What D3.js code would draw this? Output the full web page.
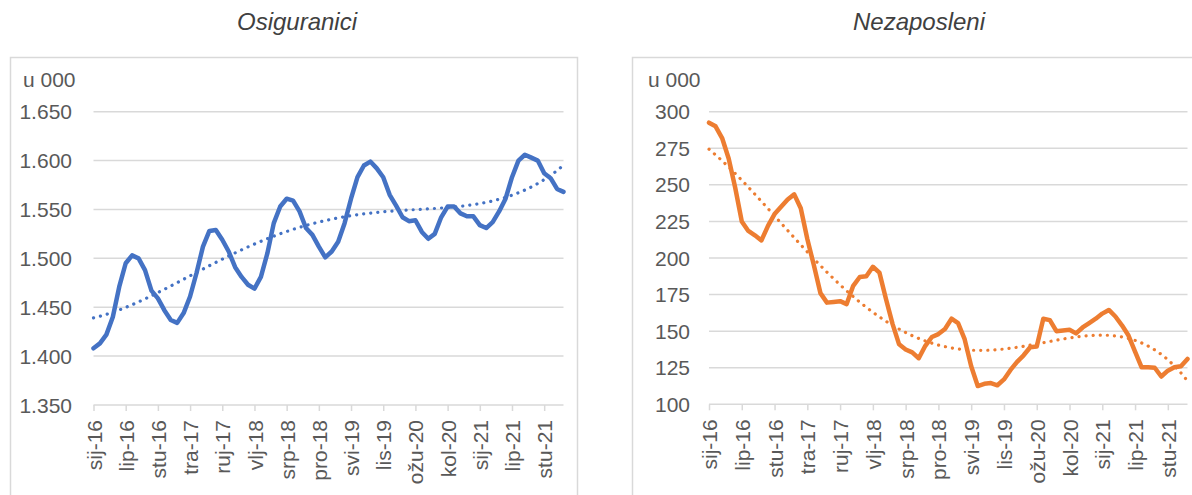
<!DOCTYPE html>
<html>
<head>
<meta charset="utf-8">
<script src="https://cdn.jsdelivr.net/npm/d3@7"></script>
<style>
  html, body { margin: 0; padding: 0; background: #fff; }
  svg { display: block; font-family: "Liberation Sans", Arial, sans-serif; }
  .grid line { stroke: #d9d9d9; stroke-width: 1.5; }
  .frame { fill: none; stroke: #d9d9d9; stroke-width: 1.5; }
  .xaxis path, .xaxis line { stroke: #d9d9d9; stroke-width: 1.5; }
  .xaxis text, .ylab, .unit { fill: #595959; font-size: 21px; }
  .title { fill: #404040; font-size: 24px; font-style: italic; }
</style>
</head>
<body>
<svg id="chart" width="1192" height="495"></svg>
<script>
// Monthly data, sij-16 .. vlj-22 (74 months), in thousands.
const categories = [
  "sij-16","vlj-16","ožu-16","tra-16","svi-16","lip-16","srp-16","kol-16","ruj-16","lis-16","stu-16","pro-16",
  "sij-17","vlj-17","ožu-17","tra-17","svi-17","lip-17","srp-17","kol-17","ruj-17","lis-17","stu-17","pro-17",
  "sij-18","vlj-18","ožu-18","tra-18","svi-18","lip-18","srp-18","kol-18","ruj-18","lis-18","stu-18","pro-18",
  "sij-19","vlj-19","ožu-19","tra-19","svi-19","lip-19","srp-19","kol-19","ruj-19","lis-19","stu-19","pro-19",
  "sij-20","vlj-20","ožu-20","tra-20","svi-20","lip-20","srp-20","kol-20","ruj-20","lis-20","stu-20","pro-20",
  "sij-21","vlj-21","ožu-21","tra-21","svi-21","lip-21","srp-21","kol-21","ruj-21","lis-21","stu-21","pro-21",
  "sij-22","vlj-22"
];

// every 5th month is labelled on the axis
const tickLabels = ["sij-16","lip-16","stu-16","tra-17","ruj-17","vlj-18","srp-18","pro-18",
  "svi-19","lis-19","ožu-20","kol-20","sij-21","lip-21","stu-21"];

const insured = [
  1408,1413,1422,1440,1471,1495,1503,1500,1488,1467,1459,1447,
  1437,1434,1444,1461,1485,1512,1528,1529,1519,1507,1491,1481,
  1473,1469,1481,1505,1536,1553,1561,1559,1548,1531,1524,1512,
  1501,1507,1517,1536,1561,1583,1595,1599,1592,1583,1565,1554,
  1542,1538,1539,1527,1520,1525,1542,1553,1553,1546,1543,1543,
  1534,1531,1537,1548,1561,1583,1600,1606,1603,1600,1587,1582,
  1571,1568
];

const unemployed = [
  292.5,290,282,268,248,225,218.5,215.5,212,222,230,235,
  240,243.5,234,213,195,176,169.5,170,170.5,168.5,181,187,
  187.5,194,190,172,155,141,137.5,135.5,131.5,140,146,148,
  151.5,158.5,155.5,144.5,126,112.5,114,114.5,113,117,123.5,129,
  133.5,139,139.5,158.5,157.5,150,150.5,151,148.5,152.5,155.5,158.5,
  162,164.5,160,154,147,136,125.3,125.3,125,119,123,125.3,
  126,131
];

const insuredTicks = [1350, 1400, 1450, 1500, 1550, 1600, 1650];
const unemployedTicks = [100, 125, 150, 175, 200, 225, 250, 275, 300];

const hr = d3.formatLocale({ decimal: ",", thousands: ".", grouping: [3], currency: ["", ""] });
const fmtInt = hr.format(",d");

const svg = d3.select("#chart");

// Least-squares polynomial trend (order 4, like the spreadsheet trendline).
function polyTrend(values, degree) {
  const n = values.length;
  const xs = values.map((_, i) => i / (n - 1));
  const m = degree + 1;
  const A = Array.from({ length: m }, () => new Array(m + 1).fill(0));
  for (let k = 0; k < n; k++) {
    for (let r = 0; r < m; r++) {
      for (let c = 0; c < m; c++) A[r][c] += Math.pow(xs[k], r + c);
      A[r][m] += values[k] * Math.pow(xs[k], r);
    }
  }
  // gauss-jordan with partial pivoting
  for (let p = 0; p < m; p++) {
    let best = p;
    for (let r = p + 1; r < m; r++) if (Math.abs(A[r][p]) > Math.abs(A[best][p])) best = r;
    [A[p], A[best]] = [A[best], A[p]];
    for (let r = 0; r < m; r++) {
      if (r === p) continue;
      const f = A[r][p] / A[p][p];
      for (let c = p; c <= m; c++) A[r][c] -= f * A[p][c];
    }
  }
  const coef = A.map((row, i) => row[m] / row[i]);
  return xs.map((x) => coef.reduce((s, a, i) => s + a * Math.pow(x, i), 0));
}

function drawPanel(cfg) {
  const g = svg.append("g");

  g.append("rect").attr("class", "frame")
    .attr("x", cfg.frame[0]).attr("y", cfg.frame[1])
    .attr("width", cfg.frame[2]).attr("height", cfg.frame[3]);

  g.append("text").attr("class", "title")
    .attr("x", cfg.titleX).attr("y", 30)
    .attr("text-anchor", "middle")
    .text(cfg.title);

  const x = d3.scalePoint().domain(categories).range([cfg.x0, cfg.x1]);
  const y = d3.scaleLinear().domain(d3.extent(cfg.ticks)).range([cfg.yBottom, cfg.yTop]);

  // horizontal gridlines (bottom one is the axis line)
  g.append("g").attr("class", "grid")
    .selectAll("line")
    .data(cfg.ticks.slice(1))
    .join("line")
    .attr("x1", cfg.x0).attr("x2", cfg.x1)
    .attr("y1", (d) => y(d)).attr("y2", (d) => y(d));

  g.selectAll(".ylab")
    .data(cfg.ticks)
    .join("text")
    .attr("class", "ylab")
    .attr("x", cfg.labelX)
    .attr("y", (d) => y(d))
    .attr("dy", "0.36em")
    .attr("text-anchor", "end")
    .text((d) => fmtInt(d));

  g.append("text").attr("class", "unit")
    .attr("x", cfg.unitX).attr("y", 87)
    .text("u 000");

  const xAxis = g.append("g").attr("class", "xaxis")
    .attr("transform", `translate(0,${cfg.yBottom})`)
    .call(d3.axisBottom(x).tickValues(tickLabels).tickSize(6).tickSizeOuter(0));
  xAxis.select(".domain").attr("d", `M${cfg.x0},0H${cfg.x1}`);
  xAxis.selectAll("text")
    .attr("font-family", null).attr("font-size", null).attr("fill", null)
    .attr("transform", "rotate(-90)")
    .attr("text-anchor", "end")
    .attr("x", -15).attr("y", 0)
    .attr("dy", "0.36em");

  const line = d3.line()
    .x((d, i) => x(categories[i]))
    .y((d) => y(d));

  g.append("path")
    .datum(polyTrend(cfg.values, 4))
    .attr("fill", "none")
    .attr("stroke", cfg.color)
    .attr("stroke-width", 3.2)
    .attr("stroke-linecap", "round")
    .attr("stroke-dasharray", "0.1 7")
    .attr("d", line);

  g.append("path")
    .datum(cfg.values)
    .attr("fill", "none")
    .attr("stroke", cfg.color)
    .attr("stroke-width", 4.5)
    .attr("stroke-linejoin", "round")
    .attr("stroke-linecap", "round")
    .attr("d", line);
}

drawPanel({
  title: "Osiguranici", titleX: 297,
  values: insured, ticks: insuredTicks, color: "#4472C4",
  frame: [10.5, 57.5, 567, 500],
  x0: 93.5, x1: 563.5, yTop: 111.7, yBottom: 405,
  labelX: 72, unitX: 23
});

drawPanel({
  title: "Nezaposleni", titleX: 919,
  values: unemployed, ticks: unemployedTicks, color: "#ED7D31",
  frame: [632.5, 57.5, 600, 500],
  x0: 709, x1: 1187.5, yTop: 111.7, yBottom: 404.3,
  labelX: 690, unitX: 648
});
</script>
</body>
</html>
